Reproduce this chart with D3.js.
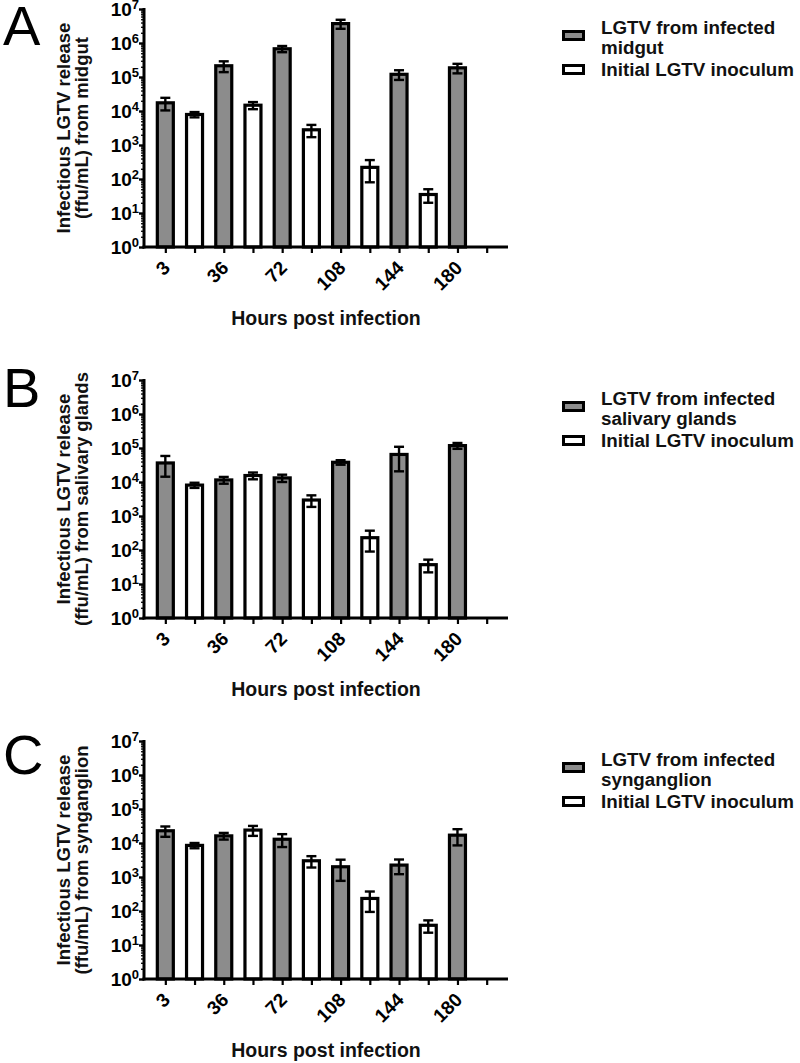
<!DOCTYPE html>
<html>
<head>
<meta charset="utf-8">
<script src="https://cdn.jsdelivr.net/npm/d3@7"></script>
<style>
  html, body { margin: 0; padding: 0; background: #fff; }
  svg { display: block; font-family: "Liberation Sans", Arial, sans-serif; }
</style>
</head>
<body>
<svg id="chart" width="800" height="1063"></svg>
<script>
// ---------------- data ----------------
const hourLabels = ["3", "36", "72", "108", "144", "180"];
const slots = ["s0","s1","s2","s3","s4","s5","s6","s7","s8","s9","s10","s11"];
const yTickExps = [0, 1, 2, 3, 4, 5, 6, 7];

// Panel A: midgut
const midgutMean = [17400, 214000, 676000, 3720000, 120000, 186000];
const midgutSD   = [7000, 75000, 140000, 1100000, 38000, 58000];
const inoculumAMean = [7900, 14800, 2800, 220, 35];
const inoculumASD   = [1400, 3500, 1100, 140, 15];

// Panel B: salivary glands
const salivaryMean = [36300, 11500, 13200, 38000, 64600, 117500];
const salivarySD   = [22000, 2600, 3200, 5800, 44000, 23000];
const inoculumBMean = [8100, 15500, 2950, 230, 37];
const inoculumBSD   = [1400, 3500, 1100, 140, 15];

// Panel C: synganglion
const synganglionMean = [22900, 16200, 12900, 2000, 2240, 17000];
const synganglionSD   = [7700, 3600, 5300, 1230, 1030, 8500];
const inoculumCMean = [8500, 24000, 3000, 234, 38];
const inoculumCSD   = [1500, 7800, 1100, 140, 15];

const panels = [
  { letter: "A", offset: 0,   tissue: "midgut", legend: ["LGTV from infected", "midgut"],
    mean: midgutMean, sd: midgutSD, inoMean: inoculumAMean, inoSD: inoculumASD, letterY: 45 },
  { letter: "B", offset: 371, tissue: "salivary glands", legend: ["LGTV from infected", "salivary glands"],
    mean: salivaryMean, sd: salivarySD, inoMean: inoculumBMean, inoSD: inoculumBSD, letterY: 407 },
  { letter: "C", offset: 732, tissue: "synganglion", legend: ["LGTV from infected", "synganglion"],
    mean: synganglionMean, sd: synganglionSD, inoMean: inoculumCMean, inoSD: inoculumCSD, letterY: 774 }
];

// ---------------- drawing ----------------
const svg = d3.select("#chart");
const GRAY = "#8c8c8c";
const X0 = 144, X1 = 508;

panels.forEach(p => {
  const top = p.offset + 9, bottom = p.offset + 247;
  const g = svg.append("g");

  const x = d3.scalePoint().domain(slots).range([X0, X1]).padding(0.73);
  const y = d3.scaleLog().domain([1, 1e7]).range([bottom, top]);

  // build bar records
  const bars = [];
  p.mean.forEach((m, i) => bars.push({ slot: slots[2 * i], mean: m, sd: p.sd[i], fill: GRAY }));
  p.inoMean.forEach((m, i) => bars.push({ slot: slots[2 * i + 1], mean: m, sd: p.inoSD[i], fill: "#fff" }));

  const bw = 16;
  g.selectAll("rect.bar").data(bars).join("rect")
    .attr("class", "bar")
    .attr("x", d => x(d.slot) - bw / 2)
    .attr("width", bw)
    .attr("y", d => y(d.mean))
    .attr("height", d => bottom - y(d.mean))
    .attr("fill", d => d.fill)
    .attr("stroke", "#000")
    .attr("stroke-width", 3.2);

  // error bars
  const eb = g.selectAll("g.err").data(bars).join("g").attr("class", "err")
    .attr("stroke", "#000").attr("stroke-width", 2.4);
  eb.append("line")
    .attr("x1", d => x(d.slot)).attr("x2", d => x(d.slot))
    .attr("y1", d => y(d.mean + d.sd)).attr("y2", d => y(Math.max(1, d.mean - d.sd)));
  eb.append("line")
    .attr("x1", d => x(d.slot) - 5).attr("x2", d => x(d.slot) + 5)
    .attr("y1", d => y(d.mean + d.sd)).attr("y2", d => y(d.mean + d.sd));
  eb.append("line")
    .attr("x1", d => x(d.slot) - 5).attr("x2", d => x(d.slot) + 5)
    .attr("y1", d => y(Math.max(1, d.mean - d.sd))).attr("y2", d => y(Math.max(1, d.mean - d.sd)));

  // y axis: minor ticks
  const minorVals = y.ticks().filter(v => Math.abs(Math.log10(v) - Math.round(Math.log10(v))) > 1e-6);
  const yMinor = g.append("g").attr("transform", `translate(${X0},0)`)
    .call(d3.axisLeft(y).tickValues(minorVals).tickSize(3).tickSizeOuter(0).tickFormat(""));
  yMinor.select(".domain").remove();
  yMinor.selectAll(".tick line").attr("stroke", "#000").attr("stroke-width", 1.3);

  // y axis: major ticks + domain
  const yMajor = g.append("g").attr("transform", `translate(${X0},0)`)
    .call(d3.axisLeft(y).tickValues(yTickExps.map(e => Math.pow(10, e)))
      .tickSize(5).tickSizeOuter(0).tickPadding(3).tickFormat(""));
  yMajor.select(".domain").attr("stroke", "#000").attr("stroke-width", 3)
    .attr("d", `M0,${top - 1}V${bottom + 1.5}`);
  yMajor.selectAll(".tick line").attr("stroke", "#000").attr("stroke-width", 2.4);
  yMajor.selectAll(".tick text").each(function (d) {
    const t = d3.select(this);
    t.text(null)
      .attr("font-size", 19).attr("font-weight", "bold").attr("fill", "#000")
      .attr("text-anchor", "end").attr("dy", "0.36em").attr("x", -5);
    t.append("tspan").text("10");
    t.append("tspan").attr("font-size", 13).attr("dy", "-0.6em")
      .text(Math.round(Math.log10(d)));
  });

  // x axis
  const xAxis = g.append("g").attr("transform", `translate(0,${bottom})`)
    .call(d3.axisBottom(x).tickSize(6).tickSizeOuter(0).tickFormat(""));
  xAxis.select(".domain").attr("stroke", "#000").attr("stroke-width", 3)
    .attr("d", `M${X0 - 1.5},0H${X1}`);
  xAxis.selectAll(".tick line").attr("stroke", "#000").attr("stroke-width", 2.2);

  // x tick labels (every other slot)
  g.selectAll("text.xlab").data(hourLabels).join("text")
    .attr("class", "xlab")
    .attr("transform", (d, i) => `translate(${x(slots[2 * i]) + 6},${bottom + 22}) rotate(-45)`)
    .attr("text-anchor", "end")
    .attr("font-size", 19).attr("font-weight", "bold").attr("fill", "#000")
    .text(d => d);

  // x title
  g.append("text")
    .attr("x", (X0 + X1) / 2).attr("y", bottom + 78)
    .attr("text-anchor", "middle")
    .attr("font-size", 19.5).attr("font-weight", "bold").attr("fill", "#111")
    .text("Hours post infection");

  // y title
  const cy = (top + bottom) / 2;
  g.append("text")
    .attr("transform", `translate(70,${cy}) rotate(-90)`)
    .attr("text-anchor", "middle")
    .attr("font-size", 18.5).attr("font-weight", "bold").attr("fill", "#111")
    .text("Infectious LGTV release");
  g.append("text")
    .attr("transform", `translate(88,${cy}) rotate(-90)`)
    .attr("text-anchor", "middle")
    .attr("font-size", 18.5).attr("font-weight", "bold").attr("fill", "#111")
    .text(`(ffu/mL) from ${p.tissue}`);

  // panel letter
  g.append("text")
    .attr("x", 3).attr("y", p.letterY)
    .attr("font-size", 56).attr("fill", "#000")
    .text(p.letter);

  // legend
  const lg = g.append("g");
  lg.append("rect").attr("x", 563.5).attr("y", p.offset + 31.5).attr("width", 20).attr("height", 8)
    .attr("fill", GRAY).attr("stroke", "#000").attr("stroke-width", 3);
  lg.append("rect").attr("x", 563.5).attr("y", p.offset + 65.5).attr("width", 20).attr("height", 8)
    .attr("fill", "#fff").attr("stroke", "#000").attr("stroke-width", 3);
  lg.append("text").attr("x", 601).attr("y", p.offset + 34)
    .attr("font-size", 18.8).attr("font-weight", "bold").attr("fill", "#111").text(p.legend[0]);
  lg.append("text").attr("x", 601).attr("y", p.offset + 54)
    .attr("font-size", 18.8).attr("font-weight", "bold").attr("fill", "#111").text(p.legend[1]);
  lg.append("text").attr("x", 601).attr("y", p.offset + 75.5)
    .attr("font-size", 18.8).attr("font-weight", "bold").attr("fill", "#111").text("Initial LGTV inoculum");
});
</script>
</body>
</html>
